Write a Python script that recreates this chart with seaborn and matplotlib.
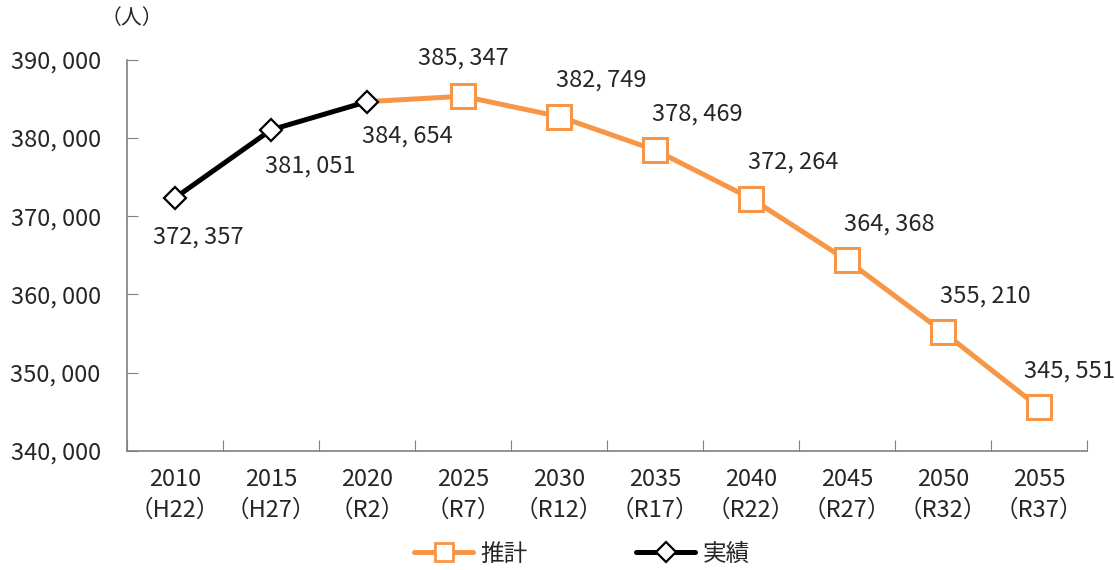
import matplotlib
matplotlib.use("Agg")
import matplotlib.pyplot as plt
import matplotlib.ticker as mticker
from matplotlib.lines import Line2D
import seaborn as sns
import pandas as pd
import numpy as np

years = ["2010", "2015", "2020", "2025", "2030", "2035", "2040", "2045", "2050", "2055"]
eras = ["（H22）", "（H27）", "（R2）", "（R7）", "（R12）", "（R17）", "（R22）", "（R27）", "（R32）", "（R37）"]
actual_years = ["2010", "2015", "2020"]
actual = [372357, 381051, 384654]
proj_years = ["2020", "2025", "2030", "2035", "2040", "2045", "2050", "2055"]
projected = [384654, 385347, 382749, 378469, 372264, 364368, 355210, 345551]

sns.set_style("ticks")
plt.rcParams["font.family"] = ["Noto Sans CJK JP", "DejaVu Sans"]

ORANGE = "#F79646"

idx = {y: i for i, y in enumerate(years)}
df_act = pd.DataFrame({"x": [idx[y] for y in actual_years], "v": actual})
df_proj = pd.DataFrame({"x": [idx[y] for y in proj_years], "v": projected})

fig = plt.figure(figsize=(11.15, 5.7), dpi=100)
ax = fig.add_axes([0.114, 0.209, 0.861, 0.686])

# projection line (starts at 2020, markers from 2025)
sns.lineplot(data=df_proj, x="x", y="v", ax=ax, color=ORANGE, lw=3.6, zorder=2)
ax.plot(df_proj["x"][1:], df_proj["v"][1:], ls="none", marker="s", ms=17,
        mfc="white", mec=ORANGE, mew=2.2, zorder=3)
# actual line
sns.lineplot(data=df_act, x="x", y="v", ax=ax, color="black", lw=3.6, zorder=4,
             marker="D", markersize=11, markerfacecolor="white",
             markeredgecolor="black", markeredgewidth=1.6)

def fmt(v):
    return f"{v:,}".replace(",", ", ")

# label offsets in pixels (dx, dy)
offsets = {"2010": (23, -39), "2015": (39, -36), "2020": (40, -34),
           "2025": (0, 38), "2055": (30, 36)}
for y, v in zip(actual_years + proj_years[1:], actual + projected[1:]):
    dx, dy = offsets.get(y, (42, 36))
    ax.annotate(fmt(v), (idx[y], v), xytext=(dx, dy), textcoords="offset pixels",
                ha="center", va="center", fontsize=17)

ax.set_xlim(-0.5, 9.5)
ax.set_ylim(340000, 390000)
ax.yaxis.set_major_locator(mticker.MultipleLocator(10000))
ax.yaxis.set_major_formatter(mticker.FuncFormatter(lambda v, p: fmt(int(v))))
ax.set_xticks(np.arange(-0.5, 10, 1))
ax.set_xticklabels([])
ax.set_xticks(np.arange(10), [f"{a}\n{b}" for a, b in zip(years, eras)], minor=True)
for t in ax.get_xticklabels(minor=True):
    t.set_linespacing(1.45)
ax.tick_params(axis="x", which="major", direction="in", length=8, color="#808080")
ax.tick_params(axis="x", which="minor", length=0, pad=12, labelsize=17)
ax.tick_params(axis="y", direction="in", length=8, color="#808080", pad=19, labelsize=17)
ax.set_xlabel("")
ax.set_ylabel("")
for s in ["top", "right"]:
    ax.spines[s].set_visible(False)
for s in ["left", "bottom"]:
    ax.spines[s].set_color("#808080")
    ax.spines[s].set_linewidth(1.2)

ax.text(0.005, 1.08, "（人）", transform=ax.transAxes, ha="center", va="bottom", fontsize=15)

handles = [
    Line2D([], [], color=ORANGE, lw=3.6, marker="s", ms=13, mfc="white", mec=ORANGE, mew=2),
    Line2D([], [], color="black", lw=3.6, marker="D", ms=10, mfc="white", mec="black", mew=1.6),
]
fig.legend(handles, ["推計", "実績"], loc="center", bbox_to_anchor=(0.522, 0.028), ncol=2,
           frameon=False, fontsize=17, columnspacing=4.6, handlelength=2.5, handletextpad=0.3)

fig.savefig("out.png", dpi=100)
